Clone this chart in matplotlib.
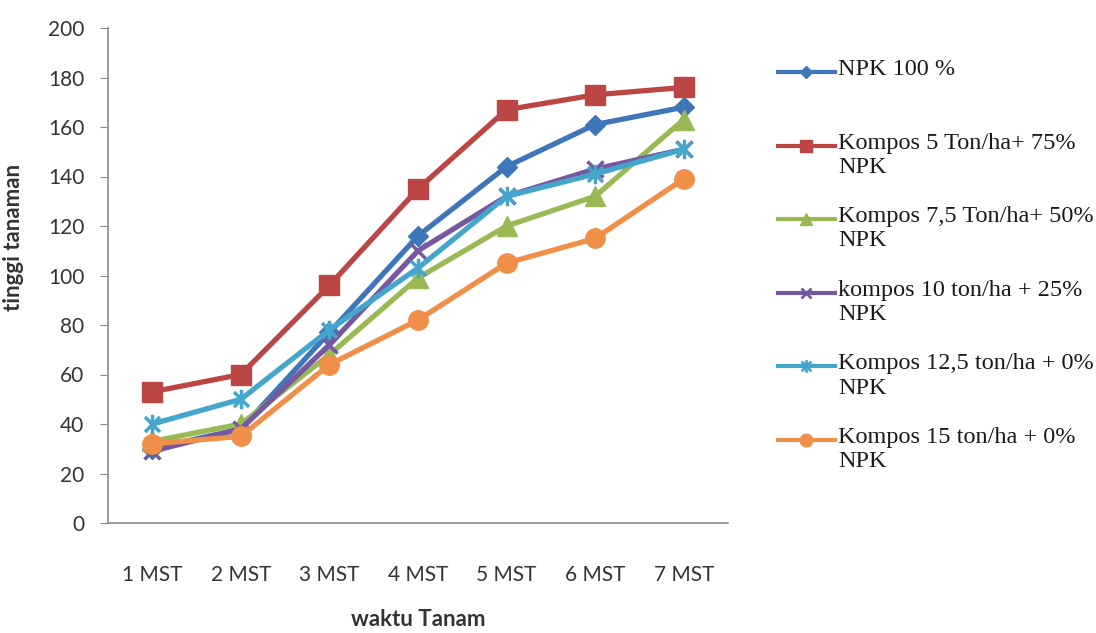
import matplotlib
matplotlib.use("Agg")
import matplotlib.pyplot as plt
from matplotlib.lines import Line2D
from matplotlib.path import Path
import numpy as np

categories = ["1 MST", "2 MST", "3 MST", "4 MST", "5 MST", "6 MST", "7 MST"]
labels = ["NPK 100 %",
          "Kompos 5 Ton/ha+ 75%\nNPK",
          "Kompos 7,5 Ton/ha+ 50%\nNPK",
          "kompos 10 ton/ha + 25%\nNPK",
          "Kompos 12,5 ton/ha + 0%\nNPK",
          "Kompos 15 ton/ha + 0%\nNPK"]
npk100 = [30, 38, 77, 116, 144, 161, 168]
kompos5 = [53, 60, 96, 135, 167, 173, 176]
kompos75 = [33, 40, 68, 99, 120, 132, 163]
kompos10 = [29, 38, 72, 110, 132, 143, 151]
kompos125 = [40, 50, 78, 103, 132, 141, 151]
kompos15 = [32, 35, 64, 82, 105, 115, 139]
series = [npk100, kompos5, kompos75, kompos10, kompos125, kompos15]
yticks = [0, 20, 40, 60, 80, 100, 120, 140, 160, 180, 200]

# Excel-style asterisk marker: x plus vertical line
star_path = Path(
    [(-1, -1), (1, 1), (-1, 1), (1, -1), (0, -1.3), (0, 1.3)],
    [Path.MOVETO, Path.LINETO, Path.MOVETO, Path.LINETO, Path.MOVETO, Path.LINETO])

styles = [
    dict(color="#3F76BA", marker="D", ms=10, mfc="#3F76BA", mec="#3F76BA"),
    dict(color="#BC4643", marker="s", ms=14, mfc="#BC4643", mec="#BC4643"),
    dict(color="#98B954", marker="^", ms=14, mfc="#98B954", mec="#98B954"),
    dict(color="#7558A0", marker="x", ms=11, mfc="#7558A0", mec="#7558A0", mew=2.5),
    dict(color="#45A6CC", marker=star_path, ms=14, mfc="none", mec="#45A6CC", mew=2.5),
    dict(color="#F08F48", marker="o", ms=14, mfc="#F08F48", mec="#F08F48"),
]

W, H = 1096, 633
fig = plt.figure(figsize=(W / 100, H / 100), dpi=100)
ax_l, ax_r, ax_b, ax_t = 108, 728, 523, 28
ax = fig.add_axes([ax_l / W, 1 - ax_b / H, (ax_r - ax_l) / W, (ax_b - ax_t) / H])

x = np.arange(1, len(categories) + 1)
for vals, st in zip(series, styles):
    ax.plot(x, vals, lw=3.8, solid_capstyle="round", **st)

ax.set_xlim(0.5, len(categories) + 0.5)
ax.set_ylim(0, 200)
ax.set_yticks(yticks)
ax.set_xticks(x)
ax.set_xticklabels(categories)

sans = ["Lato", "DejaVu Sans"]
for lab in ax.get_yticklabels() + ax.get_xticklabels():
    lab.set_fontfamily(sans)
    lab.set_fontsize(15)
    lab.set_color("#333333")

for s in ["top", "right"]:
    ax.spines[s].set_visible(False)
for s in ["left", "bottom"]:
    ax.spines[s].set_color("#8c8c8c")
    ax.spines[s].set_linewidth(1.2)
ax.tick_params(axis="y", direction="out", length=6, color="#8c8c8c", pad=11)
ax.tick_params(axis="x", length=0, pad=30)

ax.set_ylabel("tinggi tanaman", fontfamily=sans, fontsize=16, fontweight="bold", color="#333333")
ax.yaxis.set_label_coords((24 - ax_l) / (ax_r - ax_l), (ax_b - 237) / (ax_b - ax_t))
ax.set_xlabel("waktu Tanam", fontfamily=sans, fontsize=16, fontweight="bold", color="#333333")
ax.xaxis.set_label_coords(0.5, (ax_b - 619) / (ax_b - ax_t))
ax.xaxis.label.set_va("center")

# Manual legend: handle aligned to first text line
leg_y0, leg_step = 72, 73.6
for i, (lab, st) in enumerate(zip(labels, styles)):
    yy = 1 - (leg_y0 + i * leg_step) / H
    kw = dict(st)
    kw["ms"] = kw["ms"] * 0.65
    if "mew" in kw:
        kw["mew"] = 2
    ln = Line2D([778 / W, 835 / W], [yy, yy], transform=fig.transFigure, lw=3,
                color=kw.pop("color"), markevery=[], **{k: v for k, v in kw.items()})
    fig.add_artist(ln)
    mk = Line2D([806 / W], [yy], transform=fig.transFigure, lw=0, **kw)
    fig.add_artist(mk)
    fig.text(838 / W, yy + 13 / H, lab, fontfamily=["Liberation Serif", "DejaVu Serif"],
             fontsize=17.5, va="top", ha="left", color="#1a1a1a", linespacing=1.2)

fig.savefig("out.png", dpi=100)
